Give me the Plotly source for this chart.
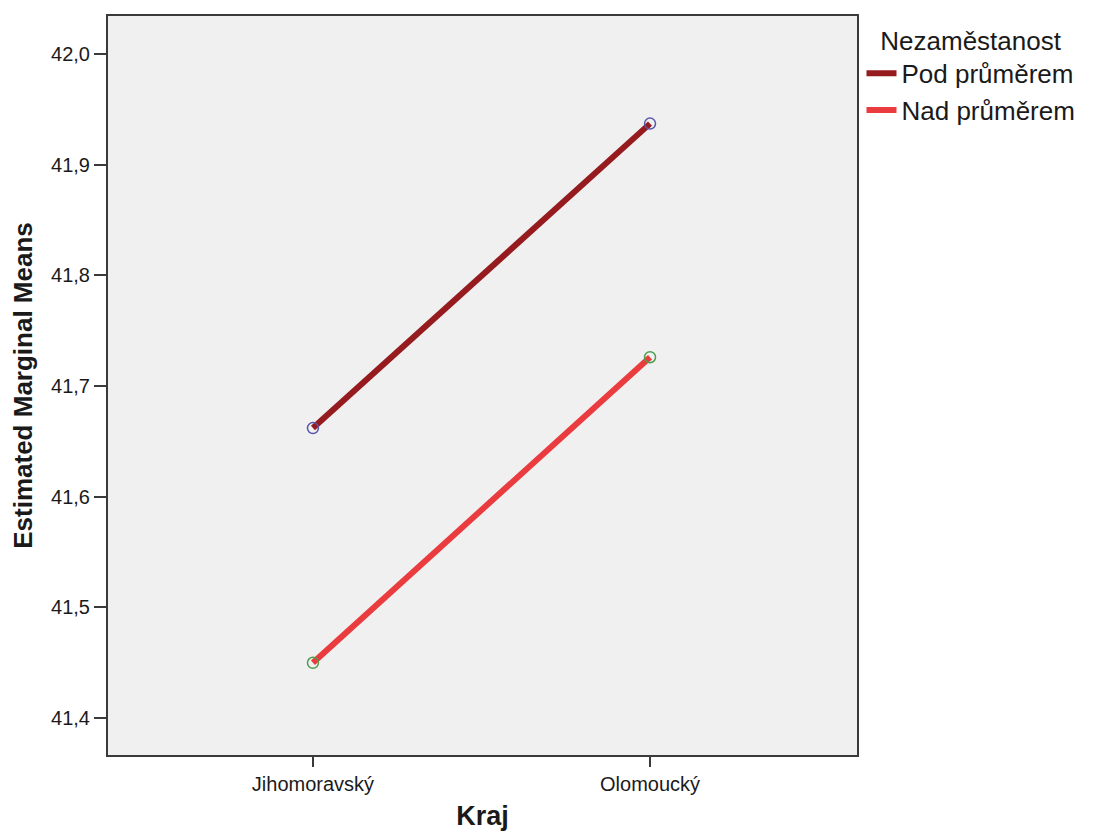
import plotly.graph_objects as go

# Data
kraj = ["Jihomoravský", "Olomoucký"]
pod_prumerem = [41.662, 41.937]
nad_prumerem = [41.450, 41.726]
series_names = ["Pod průměrem", "Nad průměrem"]
y_ticks = [41.4, 41.5, 41.6, 41.7, 41.8, 41.9, 42.0]

FONT = "Arial, Liberation Sans, sans-serif"
line_colors = ["#951B1E", "#EA3B3E"]
marker_colors = ["#5A55AA", "#4E9E4E"]

fig = go.Figure()
for vals, name, lc in zip([pod_prumerem, nad_prumerem], series_names, line_colors):
    fig.add_trace(go.Scatter(
        x=kraj, y=vals, name=name, mode="lines",
        line=dict(color=lc, width=6),
    ))
for vals, mc in zip([pod_prumerem, nad_prumerem], marker_colors):
    fig.add_trace(go.Scatter(
        x=kraj, y=vals, mode="markers", showlegend=False, hoverinfo="skip",
        marker=dict(symbol="circle-open", size=11, color=mc, line=dict(width=1.5, color=mc)),
    ))

fig.update_layout(
    width=1089, height=825,
    margin=dict(l=100, r=240, t=6, b=78),
    paper_bgcolor="white",
    plot_bgcolor="#F0F0F0",
    separators=", ",
    font=dict(family=FONT, color="#1a1a1a"),
    showlegend=True,
    legend=dict(
        title=dict(text="Nezaměstanost", side="top center", font=dict(size=26, family=FONT, color="#1a1a1a")),
        font=dict(size=26, family=FONT, color="#1a1a1a"),
        x=1.006, xanchor="left", y=1.0, yanchor="top",
        bgcolor="rgba(0,0,0,0)", tracegroupgap=0,
    ),
)
fig.update_xaxes(
    type="category",
    range=[-0.608, 1.614],
    showgrid=False, zeroline=False,
    showline=True, mirror=True, linecolor="#3a3a3a", linewidth=2,
    ticks="outside", ticklen=10, tickwidth=2, tickcolor="#3a3a3a",
    tickfont=dict(size=20, family=FONT, color="#1a1a1a"),
    title=dict(text="<b>Kraj</b>", font=dict(size=27, family=FONT, color="#1a1a1a"), standoff=12),
)
fig.update_yaxes(
    range=[41.3667, 42.0342],
    tickvals=y_ticks, tickformat=".1f",
    showgrid=False, zeroline=False,
    showline=True, mirror=True, linecolor="#3a3a3a", linewidth=2,
    ticks="outside", ticklen=12, tickwidth=2, tickcolor="#3a3a3a",
    tickfont=dict(size=20, family=FONT, color="#1a1a1a"),
    title=dict(text="<b>Estimated Marginal Means</b>", font=dict(size=26, family=FONT, color="#1a1a1a"), standoff=16),
)

fig.write_html("out.html")
